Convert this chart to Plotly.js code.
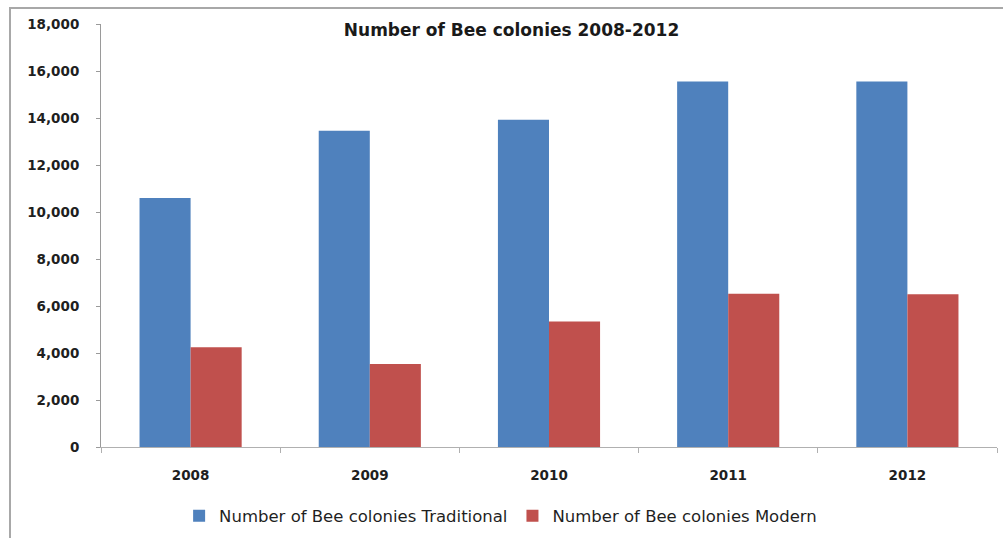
<!DOCTYPE html>
<html>
<head>
<meta charset="utf-8">
<script src="https://cdn.plot.ly/plotly-3.0.1.min.js"></script>
<style>
  html, body { margin: 0; padding: 0; background: #ffffff; }
  #wrap { position: relative; width: 1003px; height: 538px; overflow: hidden; }
  #frame { position: absolute; left: 9px; top: 7px; width: 1100px; height: 700px;
           border-top: 2px solid #a8a8a8; border-left: 2px solid #a8a8a8; }
  #chart { position: absolute; left: 0; top: 0; width: 1003px; height: 538px; }
</style>
</head>
<body>
<div id="wrap">
  <div id="frame"></div>
  <div id="chart"></div>
</div>
<script>
// Bee colonies per year, by hive type
const years = ['2008', '2009', '2010', '2011', '2012'];
const traditional = [10600, 13460, 13930, 15550, 15550];
const modern = [4240, 3530, 5345, 6520, 6500];
const yTicks = [0, 2000, 4000, 6000, 8000, 10000, 12000, 14000, 16000, 18000];
const yTickText = ['0', '2,000', '4,000', '6,000', '8,000', '10,000', '12,000', '14,000', '16,000', '18,000'];

const tickFont = { family: 'DejaVu Sans', size: 13.5, color: '#1f1f1f', weight: 'bold' };

const data = [
  {
    type: 'bar', name: 'Number of Bee colonies Traditional',
    x: years, y: traditional,
    marker: { color: '#4f81bd' }, hoverinfo: 'x+y+name'
  },
  {
    type: 'bar', name: 'Number of Bee colonies Modern',
    x: years, y: modern,
    marker: { color: '#c0504d' }, hoverinfo: 'x+y+name'
  }
];

const layout = {
  width: 1003, height: 538,
  margin: { l: 101, r: 6, t: 24, b: 91 },
  paper_bgcolor: 'rgba(0,0,0,0)',
  plot_bgcolor: 'rgba(0,0,0,0)',
  barmode: 'group', bargap: 0.43, bargroupgap: 0,
  showlegend: true,
  title: {
    text: '<b>Number of Bee colonies 2008-2012</b>',
    font: { family: 'DejaVu Sans', size: 17, color: '#1a1a1a' },
    x: 0.51, xanchor: 'center', y: 0.945, yanchor: 'middle'
  },
  xaxis: {
    type: 'category',
    showline: true, linecolor: '#b0b0b0', linewidth: 1,
    ticks: 'outside', tickson: 'boundaries', ticklen: 5, tickcolor: '#b0b0b0',
    tickfont: tickFont, ticklabelstandoff: 16,
    showgrid: false, zeroline: false, fixedrange: true
  },
  yaxis: {
    range: [0, 18000],
    tickvals: yTicks, ticktext: yTickText,
    showline: true, linecolor: '#9a9a9a', linewidth: 1,
    ticks: 'outside', ticklen: 4, tickcolor: '#9a9a9a',
    tickfont: tickFont, ticklabelstandoff: 14,
    showgrid: false, zeroline: false, fixedrange: true
  },
  legend: {
    orientation: 'h', x: 0.446, xanchor: 'center',
    yref: 'container', y: 0.041, yanchor: 'middle',
    font: { family: 'DejaVu Sans', size: 16.5, color: '#1f1f1f' },
    itemwidth: 30, traceorder: 'normal'
  }
};

Plotly.newPlot('chart', data, layout, { displayModeBar: false, staticPlot: true });
</script>
</body>
</html>
